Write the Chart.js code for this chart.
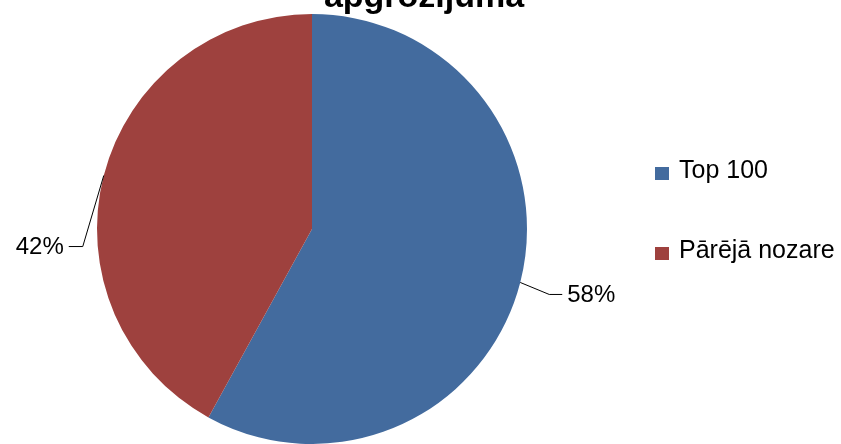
<!DOCTYPE html>
<html>
<head>
<meta charset="utf-8">
<script src="https://cdn.jsdelivr.net/npm/chart.js@4/dist/chart.umd.min.js"></script>
<style>
  html, body { margin: 0; padding: 0; background: #fff; }
  #wrap { width: 841px; height: 444px; position: relative; }
</style>
</head>
<body>
<div id="wrap"><canvas id="grafiks" width="841" height="444"></canvas></div>
<script>
// dati
const kategorijas = ["Top 100", "Pārējā nozare"];
const vertibas = [58, 42];
const krasas = ["#436B9E", "#9E413E"];
const virsraksts = "apgrozījuma";

const fonts = "'Liberation Sans', Arial, sans-serif";

// virsraksts (augša nogriezta kā oriģinālā)
const virsrakstaPlugin = {
    id: "virsraksts",
    afterDraw(chart) {
        const ctx = chart.ctx;
        ctx.save();
        ctx.font = "bold 34px " + fonts;
        ctx.fillStyle = "#000";
        ctx.textAlign = "center";
        ctx.textBaseline = "alphabetic";
        ctx.fillText(virsraksts, 424, 7);
        ctx.restore();
    }
};

// procentu etiķetes ar līnijām
const etiketesPlugin = {
    id: "etiketes",
    afterDatasetsDraw(chart) {
        const ctx = chart.ctx;
        const meta = chart.getDatasetMeta(0);
        const kopa = vertibas.reduce((a, b) => a + b, 0);
        ctx.save();
        ctx.font = "24px " + fonts;
        ctx.fillStyle = "#000";
        ctx.strokeStyle = "#000";
        ctx.lineWidth = 1;
        ctx.textBaseline = "middle";
        meta.data.forEach((arc, i) => {
            const vid = (arc.startAngle + arc.endAngle) / 2;
            const x0 = arc.x + Math.cos(vid) * arc.outerRadius;
            const y0 = arc.y + Math.sin(vid) * arc.outerRadius;
            const pa_labi = Math.cos(vid) >= 0;
            const teksts = Math.round(vertibas[i] / kopa * 100) + "%";
            let lx, ly, ex;
            if (pa_labi) {
                lx = x0 + 29; ly = y0 + 12; ex = lx + 13;
            } else {
                lx = x0 - 21; ly = y0 + 71; ex = lx - 14;
            }
            ctx.beginPath();
            ctx.moveTo(x0, y0);
            ctx.lineTo(lx, ly);
            ctx.lineTo(ex, ly);
            ctx.stroke();
            ctx.textAlign = pa_labi ? "left" : "right";
            ctx.fillText(teksts, pa_labi ? ex + 5 : ex - 5, ly + 1);
        });
        ctx.restore();
    }
};

// leģenda
const legendaPlugin = {
    id: "legenda",
    afterDraw(chart) {
        const ctx = chart.ctx;
        ctx.save();
        ctx.font = "25px " + fonts;
        ctx.textBaseline = "alphabetic";
        ctx.textAlign = "left";
        kategorijas.forEach((nos, i) => {
            const y = 178 + i * 80;
            ctx.fillStyle = krasas[i];
            ctx.fillRect(655, y - 11, 14, 13);
            ctx.fillStyle = "#000";
            ctx.fillText(nos, 679, y);
        });
        ctx.restore();
    }
};

new Chart(document.getElementById("grafiks"), {
    type: "pie",
    data: {
        labels: kategorijas,
        datasets: [{
            data: vertibas,
            backgroundColor: krasas,
            borderWidth: 0
        }]
    },
    options: {
        responsive: false,
        animation: false,
        layout: { padding: { top: 14, bottom: 0, left: 97, right: 314 } },
        plugins: {
            legend: { display: false },
            title: { display: false },
            tooltip: { enabled: false }
        }
    },
    plugins: [etiketesPlugin, virsrakstaPlugin, legendaPlugin]
});
</script>
</body>
</html>
